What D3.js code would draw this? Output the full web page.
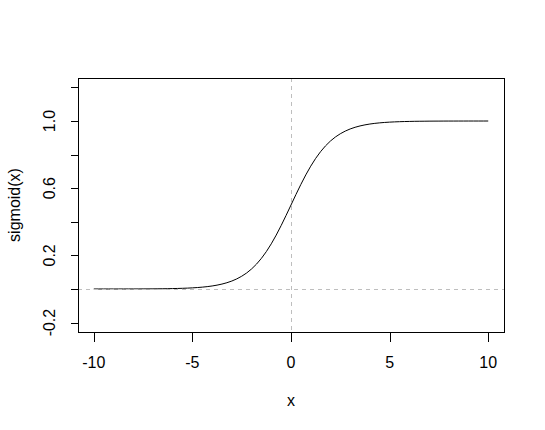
<!DOCTYPE html>
<html>
<head>
<meta charset="utf-8">
<script src="https://cdn.jsdelivr.net/npm/d3@7"></script>
<style>
  html, body { margin: 0; padding: 0; background: #fff; }
  svg { display: block; }
  text { font-family: "Liberation Sans", Arial, sans-serif; font-size: 16px; fill: #000; }
</style>
</head>
<body>
<svg id="chart" width="545" height="430"></svg>
<script>
// Curve samples
const xValues = [-10, -9.75, -9.5, -9.25, -9, -8.75, -8.5, -8.25, -8, -7.75, -7.5, -7.25, -7, -6.75, -6.5, -6.25,
  -6, -5.75, -5.5, -5.25, -5, -4.75, -4.5, -4.25, -4, -3.75, -3.5, -3.25, -3, -2.75, -2.5, -2.25,
  -2, -1.75, -1.5, -1.25, -1, -0.75, -0.5, -0.25, 0, 0.25, 0.5, 0.75, 1, 1.25, 1.5, 1.75,
  2, 2.25, 2.5, 2.75, 3, 3.25, 3.5, 3.75, 4, 4.25, 4.5, 4.75, 5, 5.25, 5.5, 5.75,
  6, 6.25, 6.5, 6.75, 7, 7.25, 7.5, 7.75, 8, 8.25, 8.5, 8.75, 9, 9.25, 9.5, 9.75, 10];
const yValues = [0.0000, 0.0001, 0.0001, 0.0001, 0.0001, 0.0002, 0.0002, 0.0003, 0.0003, 0.0004, 0.0006, 0.0007, 0.0009, 0.0012, 0.0015, 0.0019,
  0.0025, 0.0032, 0.0041, 0.0052, 0.0067, 0.0086, 0.0110, 0.0141, 0.0180, 0.0230, 0.0293, 0.0373, 0.0474, 0.0601, 0.0759, 0.0953,
  0.1192, 0.1480, 0.1824, 0.2227, 0.2689, 0.3208, 0.3775, 0.4378, 0.5000, 0.5622, 0.6225, 0.6792, 0.7311, 0.7773, 0.8176, 0.8520,
  0.8808, 0.9047, 0.9241, 0.9399, 0.9526, 0.9627, 0.9707, 0.9770, 0.9820, 0.9859, 0.9890, 0.9914, 0.9933, 0.9948, 0.9959, 0.9968,
  0.9975, 0.9981, 0.9985, 0.9988, 0.9991, 0.9993, 0.9994, 0.9996, 0.9997, 0.9997, 0.9998, 0.9998, 0.9999, 0.9999, 0.9999, 0.9999, 1.0000];
const xTicks = [-10, -5, 0, 5, 10];
const yTicks = [-0.2, 0, 0.2, 0.4, 0.6, 0.8, 1.0, 1.2];
const yTickLabels = [-0.2, 0.2, 0.6, 1.0];
const xLabel = "x";
const yLabel = "sigmoid(x)";

const svg = d3.select("#chart");
const pLeft = 78, pRight = 504, pTop = 78, pBottom = 332;

const x = d3.scaleLinear().domain([-10.8, 10.8]).range([pLeft, pRight]);
const y = d3.scaleLinear().domain([-0.256, 1.256]).range([pBottom, pTop]);

const data = xValues.map((v, i) => ({ x: v, y: yValues[i] }));

// curve
svg.append("path")
  .datum(data)
  .attr("fill", "none")
  .attr("stroke", "#000")
  .attr("stroke-width", 1)
  .attr("d", d3.line().x(d => x(d.x)).y(d => y(d.y)));

// reference dashed lines (drawn after the curve)
const px = v => Math.round(v) + 0.5;
svg.append("line")
  .attr("x1", pLeft).attr("x2", pRight)
  .attr("y1", px(y(0))).attr("y2", px(y(0)))
  .attr("stroke", "#BEBEBE").attr("stroke-dasharray", "4,4")
  .attr("shape-rendering", "crispEdges");
svg.append("line")
  .attr("x1", px(x(0))).attr("x2", px(x(0)))
  .attr("y1", pTop).attr("y2", pBottom)
  .attr("stroke", "#BEBEBE").attr("stroke-dasharray", "4,4")
  .attr("shape-rendering", "crispEdges");

// box
svg.append("rect")
  .attr("x", pLeft + 0.5).attr("y", pTop + 0.5)
  .attr("width", pRight - pLeft).attr("height", pBottom - pTop)
  .attr("fill", "none").attr("stroke", "#000")
  .attr("shape-rendering", "crispEdges");

// x axis
const xAxis = svg.append("g").attr("transform", `translate(0,${pBottom + 0.5})`);
xAxis.append("line")
  .attr("x1", px(x(xTicks[0]))).attr("x2", px(x(xTicks[xTicks.length - 1])))
  .attr("stroke", "#000").attr("shape-rendering", "crispEdges");
xTicks.forEach(t => {
  xAxis.append("line")
    .attr("x1", px(x(t))).attr("x2", px(x(t)))
    .attr("y1", 0).attr("y2", 9)
    .attr("stroke", "#000").attr("shape-rendering", "crispEdges");
  xAxis.append("text")
    .attr("x", x(t)).attr("y", 35)
    .attr("text-anchor", "middle")
    .text(String(t));
});

// y axis
const yAxis = svg.append("g").attr("transform", `translate(${pLeft + 0.5},0)`);
yAxis.append("line")
  .attr("y1", px(y(yTicks[0]))).attr("y2", px(y(yTicks[yTicks.length - 1])))
  .attr("stroke", "#000").attr("shape-rendering", "crispEdges");
yTicks.forEach(t => {
  yAxis.append("line")
    .attr("y1", px(y(t))).attr("y2", px(y(t)))
    .attr("x1", 0).attr("x2", -8)
    .attr("stroke", "#000").attr("shape-rendering", "crispEdges");
});
yTickLabels.forEach(t => {
  svg.append("text")
    .attr("transform", `translate(55,${y(t)}) rotate(-90)`)
    .attr("text-anchor", "middle")
    .text(t.toFixed(1));
});

// axis titles
svg.append("text")
  .attr("x", (pLeft + pRight) / 2).attr("y", 406)
  .attr("text-anchor", "middle")
  .text(xLabel);
svg.append("text")
  .attr("transform", `translate(20,${(pTop + pBottom) / 2}) rotate(-90)`)
  .attr("text-anchor", "middle")
  .text(yLabel);
</script>
</body>
</html>
